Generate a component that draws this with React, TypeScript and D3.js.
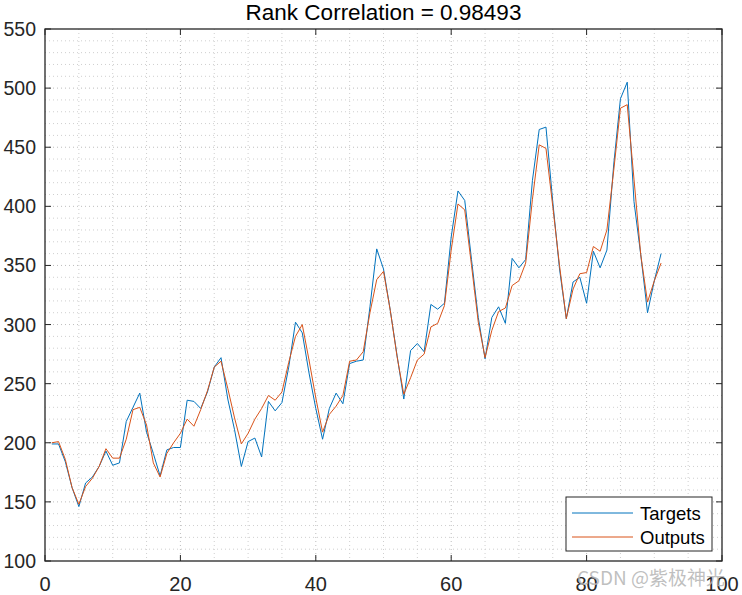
import React from "react";
import * as d3 from "d3";

const xs: number[] = Array.from({ length: 91 }, (_, i) => i + 1);

const targets: number[] = [
  199, 199, 184, 162, 146, 166, 171, 180, 193, 181, 183, 218,
  230, 242, 209, 191, 172, 194, 196, 196, 236, 235, 229, 243,
  264, 272, 237, 211, 180, 201, 204, 188, 235, 227, 234, 264,
  302, 293, 259, 229, 203, 229, 242, 233, 267, 269, 270, 315,
  364, 347, 312, 274, 237, 278, 284, 277, 317, 313, 318, 374,
  413, 405, 355, 306, 271, 306, 315, 301, 356, 348, 355, 422,
  465, 467, 404, 347, 305, 336, 340, 318, 362, 348, 363, 435,
  491, 505, 404, 359, 310, 337, 360,
];

const outputs: number[] = [
  200, 201, 186, 162, 148, 163, 170, 180, 195, 187, 187, 203,
  228, 230, 215, 183, 171, 191, 200, 208, 220, 214, 228, 244,
  264, 269, 246, 221, 199, 208, 220, 229, 240, 236, 243, 268,
  290, 300, 270, 238, 209, 224, 231, 240, 269, 270, 277, 310,
  338, 345, 312, 273, 241, 255, 270, 275, 298, 301, 316, 363,
  402, 397, 350, 302, 272, 295, 311, 314, 333, 337, 352, 406,
  452, 449, 400, 350, 305, 330, 343, 344, 366, 362, 380, 430,
  483, 486, 423, 359, 319, 337, 352,
];

const xTicks: number[] = [0, 20, 40, 60, 80, 100];
const yTicks: number[] = [100, 150, 200, 250, 300, 350, 400, 450, 500, 550];
const xMinor: number[] = d3.range(0, 101, 5);
const yMinor: number[] = d3.range(100, 551, 10);

const titleText = "Rank Correlation = 0.98493";
const seriesNames = ["Targets", "Outputs"];
const seriesColors = ["#0072BD", "#D95319"];

export default function App() {
  const W = 742, H = 595;
  const left = 45, right = 722, top = 29, bottom = 561;
  const x = d3.scaleLinear().domain([0, 100]).range([left, right]);
  const y = d3.scaleLinear().domain([100, 550]).range([bottom, top]);
  const line = d3
    .line<number>()
    .x((_, i) => x(xs[i]))
    .y((d) => y(d));
  const font = "Arial, 'Liberation Sans', Helvetica, sans-serif";
  const tickLen = 6;
  const series = [targets, outputs];

  return (
    <svg
      width={W}
      height={H}
      style={{ position: "absolute", left: 0, top: 0, background: "#fff" }}
      fontFamily={font}
    >
      <rect x={0} y={0} width={W} height={H} fill="#fff" />
      <rect x={left} y={top} width={right - left} height={bottom - top} fill="#fff" />
      {/* minor grid */}
      {xMinor.filter((v) => !xTicks.includes(v)).map((v) => (
        <line key={"xm" + v} x1={x(v)} x2={x(v)} y1={top} y2={bottom}
          stroke="#cfcfcf" strokeWidth={1} strokeDasharray="1,3" />
      ))}
      {yMinor.filter((v) => !yTicks.includes(v)).map((v) => (
        <line key={"ym" + v} x1={left} x2={right} y1={y(v)} y2={y(v)}
          stroke="#cfcfcf" strokeWidth={1} strokeDasharray="1,3" />
      ))}
      {/* major grid */}
      {xTicks.slice(1, -1).map((v) => (
        <line key={"xg" + v} x1={x(v)} x2={x(v)} y1={top} y2={bottom}
          stroke="#bdbdbd" strokeWidth={1} strokeDasharray="1,3" />
      ))}
      {yTicks.slice(1, -1).map((v) => (
        <line key={"yg" + v} x1={left} x2={right} y1={y(v)} y2={y(v)}
          stroke="#bdbdbd" strokeWidth={1} strokeDasharray="1,3" />
      ))}
      {/* series */}
      {series.map((s, k) => (
        <path key={"s" + k} d={line(s) || ""} fill="none" stroke={seriesColors[k]}
          strokeWidth={1} strokeLinejoin="round" />
      ))}
      {/* ticks */}
      {xTicks.map((v) => (
        <g key={"xt" + v}>
          <line x1={x(v)} x2={x(v)} y1={bottom} y2={bottom - tickLen} stroke="#262626" />
          <line x1={x(v)} x2={x(v)} y1={top} y2={top + tickLen} stroke="#262626" />
          <text x={x(v)} y={591} textAnchor="middle" fontSize={20} fill="#262626">{v}</text>
        </g>
      ))}
      {yTicks.map((v) => (
        <g key={"yt" + v}>
          <line x1={left} x2={left + tickLen} y1={y(v)} y2={y(v)} stroke="#262626" />
          <line x1={right} x2={right - tickLen} y1={y(v)} y2={y(v)} stroke="#262626" />
          <text x={36} y={y(v) + 7} textAnchor="end" fontSize={19.5} fill="#262626">{v}</text>
        </g>
      ))}
      {/* box */}
      <rect x={left} y={top} width={right - left} height={bottom - top} fill="none"
        stroke="#262626" strokeWidth={1.3} />
      {/* title */}
      <text x={(left + right) / 2} y={20} textAnchor="middle" fontSize={22.5} fill="#000">
        {titleText}
      </text>
      {/* legend */}
      <g>
        <rect x={566} y={497} width={146} height={54} fill="#fff" stroke="#262626" strokeWidth={1} />
        {seriesNames.map((n, k) => (
          <g key={"lg" + k}>
            <line x1={572} x2={633} y1={513 + k * 24} y2={513 + k * 24}
              stroke={seriesColors[k]} strokeWidth={1} />
            <text x={640} y={519.5 + k * 24} fontSize={18.5} fill="#000">{n}</text>
          </g>
        ))}
      </g>
      {/* watermark */}
      <text x={577} y={585} fontSize={19} fill="#b4b4b4" fillOpacity={0.85}
        fontFamily="'Noto Sans CJK SC', Arial, sans-serif">CSDN @紫极神光</text>
    </svg>
  );
}
